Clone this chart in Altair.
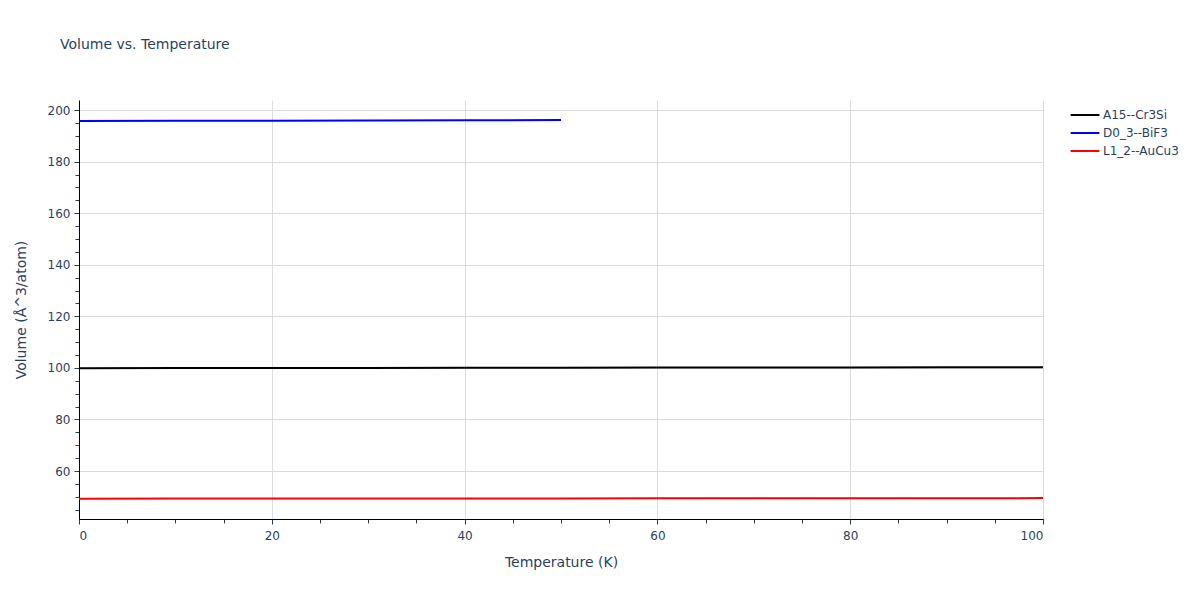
import altair as alt
import pandas as pd

temps = [0, 10, 20, 30, 40, 50, 60, 70, 80, 90, 100]
a15_vol = [99.90, 99.93, 99.96, 99.99, 100.03, 100.07, 100.11, 100.15, 100.20, 100.25, 100.30]
temps_bif3 = [0, 10, 20, 30, 40, 50]
d03_vol = [195.80, 195.84, 195.89, 195.95, 196.02, 196.10]
l12_vol = [49.30, 49.31, 49.33, 49.35, 49.37, 49.39, 49.41, 49.43, 49.45, 49.47, 49.50]

names = ["A15--Cr3Si", "D0_3--BiF3", "L1_2--AuCu3"]
colors = ["black", "blue", "red"]

df = pd.concat([
    pd.DataFrame({"T": temps, "V": a15_vol, "s": names[0]}),
    pd.DataFrame({"T": temps_bif3, "V": d03_vol, "s": names[1]}),
    pd.DataFrame({"T": temps, "V": l12_vol, "s": names[2]}),
])

font = "DejaVu Sans"
ink = "#2a3f5f"
xs = alt.Scale(domain=[0, 100], nice=False)
ys = alt.Scale(domain=[41.4, 203.9], nice=False, zero=False)

lines = alt.Chart(df).mark_line(strokeWidth=2, clip=True).encode(
    x=alt.X("T:Q", scale=xs, title="Temperature (K)",
            axis=alt.Axis(orient="bottom", values=[0, 20, 40, 60, 80, 100], grid=True, gridColor="#dcdcdc",
                          domainColor="black", tickColor=ink, tickSize=5,
                          labelFont=font, labelColor=ink, labelFontSize=12, labelPadding=6,
                          titleFont=font, titleColor=ink, titleFontSize=14, titleFontWeight="normal",
                          titlePadding=14)),
    y=alt.Y("V:Q", scale=ys, title="Volume (Å^3/atom)",
            axis=alt.Axis(orient="left", values=[60, 80, 100, 120, 140, 160, 180, 200], grid=True,
                          gridColor="#dcdcdc", domainColor="black", tickColor=ink, tickSize=5,
                          labelFont=font, labelColor=ink, labelFontSize=12, labelPadding=4,
                          titleFont=font, titleColor=ink, titleFontSize=14, titleFontWeight="normal",
                          titlePadding=19)),
    color=alt.Color("s:N", scale=alt.Scale(domain=names, range=colors), title=None,
                    legend=alt.Legend(orient="none", legendX=996, legendY=5, symbolType="M-1.6,0H1.6",
                                      symbolSize=324, symbolStrokeWidth=2, labelFont=font,
                                      labelColor=ink, labelFontSize=12, rowPadding=2, labelOffset=8)),
)

# minor ticks every 5 units
minor_x = [v for v in range(0, 101, 5)]
minor_y = [v for v in range(45, 201, 5)]
minor = alt.Chart(pd.DataFrame({"T": [0], "V": [100]})).mark_point(opacity=0).encode(
    x=alt.X("T:Q", scale=xs, axis=alt.Axis(orient="bottom", values=minor_x, labels=False, title=None,
                                           grid=False, domain=False, tickColor=ink, tickSize=4)),
    y=alt.Y("V:Q", scale=ys, axis=alt.Axis(orient="left", values=minor_y, labels=False, title=None,
                                           grid=False, domain=False, tickColor=ink, tickSize=4)),
)

chart = alt.layer(minor, lines).resolve_axis(x="independent", y="independent").properties(
    width=964, height=419,
    autosize=alt.AutoSizeParams(type="none"),
    padding={"left": 71, "top": 92, "right": 140, "bottom": 70},
    title=alt.Title("Volume vs. Temperature", anchor="start", frame="group", dx=-19, offset=48,
                    font=font, fontSize=14, fontWeight="normal", color=ink),
).configure_view(stroke=None)

chart.save("out.html", embed_options={"renderer": "svg", "actions": False})
